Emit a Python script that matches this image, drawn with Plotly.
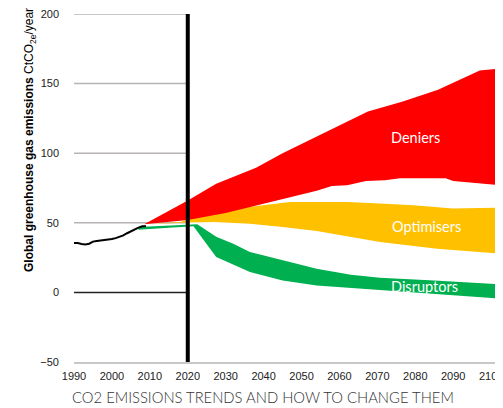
import plotly.graph_objects as go

# Historical emissions
hist_years = list(range(1990, 2010))
hist_vals = [35.5, 35.5, 34.8, 34.5, 35, 36.5, 37, 37.3, 37.5, 38, 38.3, 39, 39.8, 41, 42.5, 44, 45.5, 46.5, 47.5, 47.5]

# Deniers (red band)
den_up_years = [2008.5, 2020, 2027.5, 2033, 2038, 2045, 2054, 2063, 2067.5, 2076.5, 2086, 2097, 2102.6]
den_up_vals = [49, 66, 78, 84, 89.5, 100, 112, 124, 130, 137, 145.5, 159.5, 161]
den_lo_years = [2008.5, 2020, 2030, 2036, 2045, 2054, 2058, 2062, 2067, 2072, 2076, 2088, 2090, 2094.5, 2102.6]
den_lo_vals = [49, 52, 57, 61, 67, 73, 76.5, 77, 80, 80.5, 82, 82, 80, 78.6, 77]

# Optimisers (orange band)
opt_up_years = [2010, 2018, 2027, 2036, 2047, 2062, 2068, 2079.5, 2090, 2102.6]
opt_up_vals = [49, 50.6, 57.8, 61.4, 65, 65, 64.2, 62.6, 60.2, 61]
opt_lo_years = [2010, 2020, 2027, 2036.4, 2045, 2054, 2062.8, 2070.7, 2085.7, 2102.6]
opt_lo_vals = [49, 50.3, 50.6, 49.4, 47, 44.1, 39.8, 36.2, 31.4, 27.8]

# Disruptors (green band)
dis_up_years = [2007, 2015, 2022.5, 2027.5, 2032, 2036.4, 2045, 2054, 2063, 2070.7, 2085, 2102.6]
dis_up_vals = [47, 48, 49, 40, 35, 29, 23, 17, 12.7, 10.6, 8.5, 5.8]
dis_lo_years = [2007, 2015, 2021.5, 2027.5, 2036.4, 2045, 2054, 2063, 2071, 2085, 2102.6]
dis_lo_vals = [45, 46.5, 47.5, 25.5, 14.6, 8.6, 5, 3.4, 1.4, -1, -4.5]

band_labels = ["Deniers", "Optimisers", "Disruptors"]
label_years = [2080, 2083, 2082.5]
label_vals = [111.5, 47.5, 4.3]

grid_vals = [200, 150, 100, 50]
x_ticks = list(range(1990, 2101, 10))
y_ticks = [-50, 0, 50, 100, 150, 200]

y_title = "<b>Global greenhouse gas emissions</b> CtCO<sub>2e</sub>/year"
chart_title = "CO2 EMISSIONS TRENDS AND HOW TO CHANGE THEM"

fig = go.Figure()


def band(up_x, up_y, lo_x, lo_y, color):
    return go.Scatter(
        x=list(up_x) + list(reversed(lo_x)),
        y=list(up_y) + list(reversed(lo_y)),
        fill="toself", fillcolor=color, mode="lines",
        line=dict(width=0, color=color), hoverinfo="skip", showlegend=False,
    )


fig.add_trace(band(opt_up_years, opt_up_vals, opt_lo_years, opt_lo_vals, "#FFC000"))
fig.add_trace(band(den_up_years, den_up_vals, den_lo_years, den_lo_vals, "#FF0000"))
fig.add_trace(band(dis_up_years, dis_up_vals, dis_lo_years, dis_lo_vals, "#00B050"))

fig.add_trace(go.Scatter(x=hist_years, y=hist_vals, mode="lines",
                         line=dict(color="black", width=2), showlegend=False))

# gridlines limited to historical period
for g in grid_vals:
    fig.add_shape(type="line", x0=1990, x1=2020, y0=g, y1=g, xref="x", yref="y",
                  line=dict(color="#b8b4b4", width=1.5), layer="below")
fig.add_shape(type="line", x0=1990, x1=2020, y0=0, y1=0, xref="x", yref="y",
              line=dict(color="#222222", width=1.5), layer="below")
fig.add_shape(type="line", x0=2020, x1=2020, y0=-50, y1=200, xref="x", yref="y",
              line=dict(color="black", width=4), layer="above")

for t, xv, yv in zip(band_labels, label_years, label_vals):
    fig.add_annotation(x=xv, y=yv, text=t, showarrow=False,
                       font=dict(family="Lato", size=14.5, color="white"))

PW, PH = 427.0, 348.0
fig.add_annotation(text=y_title, xref="paper", yref="paper",
                   x=(30 - 74) / PW, y=(362 - 140) / PH, xanchor="center", yanchor="middle",
                   textangle=-90, showarrow=False,
                   font=dict(family="Liberation Sans Narrow, Liberation Sans", size=12, color="black"))
fig.add_annotation(text=chart_title, xref="paper", yref="paper",
                   x=(263 - 74) / PW, y=-(397 - 362) / PH, xanchor="center", yanchor="middle",
                   showarrow=False, font=dict(family="Lato", size=14.8, color="#333", weight=300))

fig.update_layout(
    width=495, height=400,
    margin=dict(l=66, r=2, t=6, b=46, autoexpand=False),
    paper_bgcolor="white", plot_bgcolor="white",
    showlegend=False,
    xaxis=dict(range=[1990, 2102.6], tickvals=x_ticks, showgrid=False, zeroline=False,
               showline=True, linecolor="#c8c8c8", linewidth=1.5,
               tickfont=dict(family="Liberation Sans", size=11, color="#222"),
               ticks="", ticklabelstandoff=3, ticklabeloverflow="allow"),
    yaxis=dict(range=[-50, 200], tickvals=y_ticks, showgrid=False, zeroline=False,
               showline=False,
               tickfont=dict(family="Liberation Sans", size=11, color="#222"),
               ticks="", ticklabelstandoff=14, ticklabeloverflow="allow"),
)

fig.write_html("out.html")
